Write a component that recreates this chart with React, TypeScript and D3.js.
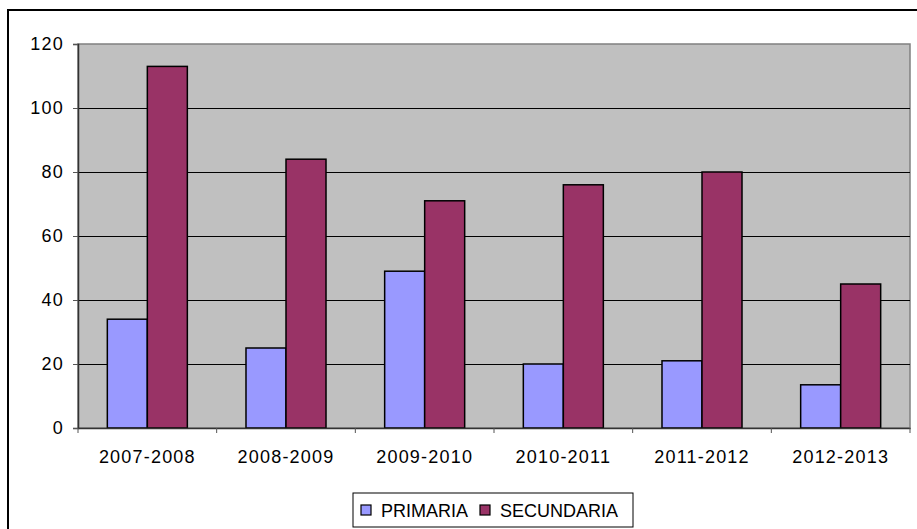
import React, { useEffect, useRef } from "react";
import * as d3 from "d3";

const categories = ["2007-2008", "2008-2009", "2009-2010", "2010-2011", "2011-2012", "2012-2013"];
const seriesNames = ["PRIMARIA", "SECUNDARIA"];
const primaria = [34, 25, 49, 20, 21, 13.5];
const secundaria = [113, 84, 71, 76, 80, 45];
const yTicks = [0, 20, 40, 60, 80, 100, 120];
const colors = ["#9999FF", "#993366"];

function App() {
  const svgRef = useRef<SVGSVGElement>(null);

  useEffect(() => {
    const width = 917;
    const height = 529;
    const left = 78, right = 910, top = 44, bottom = 428;
    const font = "'Liberation Sans', Arial, sans-serif";

    const svg = d3.select(svgRef.current);
    svg.selectAll("*").remove();
    svg.attr("width", width).attr("height", height);

    // outer chart frame
    svg.append("rect")
      .attr("x", 8).attr("y", 10)
      .attr("width", 940).attr("height", 560)
      .attr("fill", "#fff").attr("stroke", "#000").attr("stroke-width", 2);

    const x0 = d3.scaleBand().domain(categories).range([left, right]);
    const x1 = d3.scaleBand().domain(seriesNames).range([0, x0.bandwidth()]).paddingInner(0).paddingOuter(0.733);
    const y = d3.scaleLinear().domain([0, 120]).range([bottom, top]);

    // plot area
    svg.append("rect")
      .attr("x", left).attr("y", top)
      .attr("width", right - left).attr("height", bottom - top)
      .attr("fill", "#C0C0C0").attr("stroke", "#808080").attr("stroke-width", 1.5);

    // gridlines
    svg.append("g").selectAll("line")
      .data(yTicks.filter(t => t > 0 && t < 120))
      .join("line")
      .attr("x1", left).attr("x2", right)
      .attr("y1", d => y(d) + 0.5).attr("y2", d => y(d) + 0.5)
      .attr("stroke", "#000").attr("stroke-width", 1)
      .attr("shape-rendering", "crispEdges");

    // bars
    const values = [primaria, secundaria];
    seriesNames.forEach((s, si) => {
      svg.append("g").selectAll("rect")
        .data(values[si])
        .join("rect")
        .attr("x", (d, i) => (x0(categories[i]) as number) + (x1(s) as number))
        .attr("y", d => y(d))
        .attr("width", x1.bandwidth())
        .attr("height", d => y(0) - y(d))
        .attr("fill", colors[si])
        .attr("stroke", "#000").attr("stroke-width", 1.5);
    });

    // y axis
    const yAxis = d3.axisLeft(y).tickValues(yTicks).tickSize(5).tickPadding(9);
    const ga = svg.append("g").attr("transform", `translate(${left},0)`).call(yAxis);
    ga.select(".domain").attr("stroke", "#333").attr("stroke-width", 1.5);
    ga.selectAll(".tick line").attr("stroke", "#555");
    ga.selectAll("text")
      .attr("font-family", font).attr("font-size", 18)
      .attr("letter-spacing", 1.2).attr("fill", "#000");

    // x axis
    const xAxis = d3.axisBottom(x0).tickSize(0).tickPadding(22);
    const gx = svg.append("g").attr("transform", `translate(0,${bottom})`).call(xAxis);
    gx.select(".domain").attr("stroke", "#333").attr("stroke-width", 1.5);
    gx.selectAll("text")
      .attr("font-family", font).attr("font-size", 18)
      .attr("letter-spacing", 1.2).attr("fill", "#000");
    // category separators
    gx.append("g").selectAll("line")
      .data(categories.slice(1).map(c => x0(c) as number).concat([left, right]))
      .join("line")
      .attr("x1", d => d).attr("x2", d => d)
      .attr("y1", 0).attr("y2", 5)
      .attr("stroke", "#555");

    // legend
    const lg = svg.append("g");
    lg.append("rect")
      .attr("x", 353).attr("y", 493)
      .attr("width", 280).attr("height", 34)
      .attr("fill", "#fff").attr("stroke", "#000").attr("stroke-width", 1);
    const legendX = [361, 480];
    seriesNames.forEach((s, i) => {
      lg.append("rect")
        .attr("x", legendX[i]).attr("y", 505)
        .attr("width", 10).attr("height", 10)
        .attr("fill", colors[i]).attr("stroke", "#000").attr("stroke-width", 1.2);
      lg.append("text")
        .attr("x", legendX[i] + 20).attr("y", 516.5)
        .attr("font-family", font).attr("font-size", 18)
        .attr("letter-spacing", 0)
        .text(s);
    });
  }, []);

  return (
    <div>
      <svg ref={svgRef} style={{ position: "absolute", left: 0, top: 0 }}></svg>
    </div>
  );
}

export default App;
